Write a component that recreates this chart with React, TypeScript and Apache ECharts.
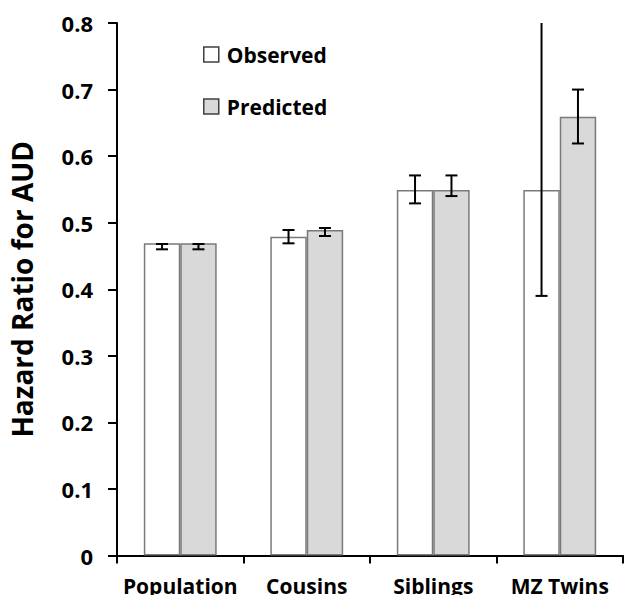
import React, { useEffect, useRef } from "react";
import * as echarts from "echarts";

const categories = ["Population", "Cousins", "Siblings", "MZ Twins"];
const observed = [0.469, 0.479, 0.549, 0.549];
const predicted = [0.469, 0.489, 0.549, 0.659];
const observedLow = [0.46, 0.469, 0.529, 0.39];
const observedHigh = [0.468, 0.489, 0.571, 0.8];
const predictedLow = [0.46, 0.48, 0.54, 0.619];
const predictedHigh = [0.468, 0.492, 0.571, 0.7];

const Y_MAX = 0.8;
const FONT = "'Open Sans', 'Liberation Sans', sans-serif";

function makeErrorRender(sign: number) {
  return (params: any, api: any) => {
    const cat = api.value(0);
    const lo = api.value(1);
    const hi = api.value(2);
    const band = api.size([1, 0])[0];
    const offset = sign * band * 0.144;
    const pLo = api.coord([cat, lo]);
    const pHi = api.coord([cat, Math.min(hi, Y_MAX)]);
    const x = pLo[0] + offset;
    const half = 6;
    const style = { stroke: "#000", lineWidth: 2 };
    const children: any[] = [
      { type: "line", shape: { x1: x, y1: pLo[1], x2: x, y2: pHi[1] }, style },
      { type: "line", shape: { x1: x - half, y1: pLo[1], x2: x + half, y2: pLo[1] }, style },
    ];
    if (hi < Y_MAX) {
      children.push({ type: "line", shape: { x1: x - half, y1: pHi[1], x2: x + half, y2: pHi[1] }, style });
    }
    return { type: "group", children };
  };
}

export default function App() {
  const ref = useRef<HTMLDivElement>(null);
  useEffect(() => {
    if (!ref.current) return;
    const chart = echarts.init(ref.current, undefined, { renderer: "svg" });
    chart.setOption({
      animation: false,
      backgroundColor: "#fff",
      textStyle: { fontFamily: FONT },
      grid: { left: 117, right: 16, top: 23, bottom: 47.5 },
      legend: {
        data: ["Observed", "Predicted"],
        orient: "vertical",
        left: 203,
        top: 44,
        padding: 0,
        itemWidth: 15,
        itemHeight: 15,
        itemGap: 31,
        icon: "rect",
        itemStyle: { borderColor: "#404040", borderWidth: 1.5 },
        textStyle: { fontFamily: FONT, fontSize: 21, fontWeight: "bold", color: "#000", padding: [0, 0, 0, 3] },
      },
      xAxis: {
        type: "category",
        data: categories,
        axisLine: { lineStyle: { color: "#000", width: 2 } },
        axisTick: { show: true, length: 8, lineStyle: { color: "#000", width: 2 } },
        axisLabel: { color: "#000", fontFamily: FONT, fontSize: 21, fontWeight: "bold", margin: 20, interval: 0 },
        splitLine: { show: false },
      },
      yAxis: {
        type: "value",
        min: 0,
        max: Y_MAX,
        interval: 0.1,
        name: "Hazard Ratio for AUD",
        nameLocation: "middle",
        nameGap: 81,
        nameTextStyle: { color: "#000", fontFamily: FONT, fontSize: 28, fontWeight: "bold" },
        axisLine: { show: true, lineStyle: { color: "#000", width: 2 } },
        axisTick: { show: true, length: 9, lineStyle: { color: "#000", width: 2 } },
        axisLabel: {
          color: "#000",
          fontFamily: FONT,
          fontSize: 22,
          fontWeight: "bold",
          margin: 24,
          formatter: (v: number) => (v === 0 ? "0" : v.toFixed(1)),
        },
        splitLine: { show: false },
      },
      series: [
        {
          name: "Observed",
          type: "bar",
          data: observed,
          barWidth: "28.8%",
          barGap: "0%",
          itemStyle: { color: "#ffffff", borderColor: "#7a7a7a", borderWidth: 1.5 },
        },
        {
          name: "Predicted",
          type: "bar",
          data: predicted,
          barWidth: "28.8%",
          barGap: "0%",
          itemStyle: { color: "#d9d9d9", borderColor: "#7a7a7a", borderWidth: 1.5 },
        },
        {
          name: "obsErr",
          type: "custom",
          renderItem: makeErrorRender(-1),
          data: categories.map((_, i) => [i, observedLow[i], observedHigh[i]]),
          encode: { x: 0, y: [1, 2] },
          z: 10,
          clip: false,
        },
        {
          name: "predErr",
          type: "custom",
          renderItem: makeErrorRender(1),
          data: categories.map((_, i) => [i, predictedLow[i], predictedHigh[i]]),
          encode: { x: 0, y: [1, 2] },
          z: 10,
          clip: false,
        },
      ],
    });
    return () => chart.dispose();
  }, []);
  return <div ref={ref} style={{ width: 639, height: 603, margin: -8 }} />;
}
